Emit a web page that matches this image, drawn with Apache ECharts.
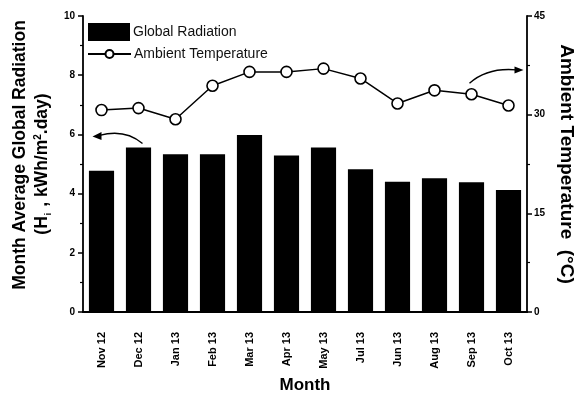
<!DOCTYPE html>
<html><head><meta charset="utf-8">
<script src="https://cdn.jsdelivr.net/npm/echarts@6/dist/echarts.min.js"></script>
<style>html,body{margin:0;padding:0;background:#fff}#c{width:581px;height:397px}</style>
</head><body><div id="c"></div>
<script>
const months = ['Nov 12','Dec 12','Jan 13','Feb 13','Mar 13','Apr 13','May 13','Jul 13','Jun 13','Aug 13','Sep 13','Oct 13'];
const radiation = [4.77, 5.56, 5.33, 5.33, 5.98, 5.29, 5.56, 4.82, 4.40, 4.52, 4.38, 4.12];
const temperature = [30.7, 31.0, 29.3, 34.4, 36.5, 36.5, 37.0, 35.5, 31.7, 33.7, 33.1, 31.4];
const radTicks = [0, 10, 2];
const tempTicks = [0, 45, 15];

const F = 'Arial, "Liberation Sans", sans-serif';
const chart = echarts.init(document.getElementById('c'));
const axisLine = {show: true, lineStyle: {color: '#000', width: 1.8}};
const legendText = {fontFamily: F, fontSize: 14, color: '#111', padding: [0, 0, 0, -2]};
chart.setOption({
  animation: false,
  grid: {left: 83, top: 16, right: 54, bottom: 85, containLabel: false, outerBoundsMode: 'none'},
  legend: [{
    orient: 'vertical', left: 88, top: 23, padding: 0, itemWidth: 42, itemHeight: 18,
    textStyle: legendText, data: [{name: 'Global Radiation', icon: 'rect'}]
  }, {
    orient: 'vertical', left: 87, top: 47, padding: 0, itemWidth: 43, itemHeight: 10,
    textStyle: legendText, data: [{name: 'Ambient Temperature'}]
  }],
  xAxis: [{
    type: 'category', data: months, position: 'bottom',
    axisLine: axisLine,
    axisTick: {alignWithLabel: true, length: 6, lineStyle: {color: '#000', width: 1.5}},
    axisLabel: {rotate: 90, margin: 20, fontFamily: F, fontWeight: 'bold', fontSize: 11, color: '#000'},
    name: 'Month', nameLocation: 'middle', nameGap: 64,
    nameTextStyle: {fontFamily: F, fontWeight: 'bold', fontSize: 17, color: '#000'}
  }, {
    type: 'category', data: months, position: 'top',
    axisLine: axisLine,
    axisTick: {alignWithLabel: true, inside: true, length: 5, lineStyle: {color: '#000', width: 1.5}},
    axisLabel: {show: false}
  }],
  yAxis: [{
    type: 'value', min: radTicks[0], max: radTicks[1], interval: radTicks[2], position: 'left',
    axisLine: axisLine, splitLine: {show: false},
    axisTick: {show: true, length: 5, lineStyle: {color: '#000', width: 1.5}},
    minorTick: {show: true, splitNumber: 2, length: 3, lineStyle: {color: '#000', width: 1.2}},
    axisLabel: {margin: 8, fontFamily: F, fontWeight: 'bold', fontSize: 10, color: '#000'},
    name: '{t|Month Average Global Radiation}\n{a|(H}{sub|i}{a| , kWh/m}{sup|2}{a|.day)}',
    nameLocation: 'middle', nameGap: 30, nameRotate: 90,
    nameTextStyle: {
      fontFamily: F, fontWeight: 'bold', fontSize: 17.5, color: '#000', lineHeight: 22,
      rich: {
        t: {fontFamily: F, fontWeight: 'bold', fontSize: 17.5, color: '#000', lineHeight: 22, padding: [0, 0, 0, 18]},
        a: {fontFamily: F, fontWeight: 'bold', fontSize: 17.5, color: '#000', lineHeight: 22},
        sub: {fontFamily: F, fontWeight: 'bold', fontSize: 9, color: '#000', lineHeight: 9, verticalAlign: 'bottom', padding: [0, 1, 0, 1]},
        sup: {fontFamily: F, fontWeight: 'bold', fontSize: 10, color: '#000', lineHeight: 10, verticalAlign: 'top', padding: [2, 0, 0, 0]}
      }
    }
  }, {
    type: 'value', min: tempTicks[0], max: tempTicks[1], interval: tempTicks[2], position: 'right',
    axisLine: axisLine, splitLine: {show: false},
    axisTick: {show: true, length: 5, lineStyle: {color: '#000', width: 1.5}},
    minorTick: {show: true, splitNumber: 2, length: 3, lineStyle: {color: '#000', width: 1.2}},
    axisLabel: {margin: 7, fontFamily: F, fontWeight: 'bold', fontSize: 10, color: '#000'},
    name: 'Ambient Temperature  (°C)', nameLocation: 'middle', nameGap: 30, nameRotate: -90,
    nameTextStyle: {fontFamily: F, fontWeight: 'bold', fontSize: 19, color: '#000'}
  }],
  series: [{
    name: 'Global Radiation', type: 'bar', data: radiation, xAxisIndex: 0, yAxisIndex: 0,
    barCategoryGap: '32%', itemStyle: {color: '#000'}
  }, {
    name: 'Ambient Temperature', type: 'line', data: temperature, xAxisIndex: 0, yAxisIndex: 1,
    symbol: 'circle', symbolSize: 11, z: 5,
    lineStyle: {color: '#000', width: 1.5},
    itemStyle: {color: '#fff', borderColor: '#000', borderWidth: 1.6}
  }]
});

// annotation arrows anchored to data points
function px(cat, v, yi) { return chart.convertToPixel({xAxisIndex: 0, yAxisIndex: yi}, [cat, v]); }
const g = [];
function arrow(x1, y1, cx, cy, x2, y2, dir) {
  g.push({type: 'bezierCurve', shape: {x1: x1, y1: y1, cpx1: cx, cpy1: cy, x2: x2, y2: y2},
    style: {stroke: '#000', lineWidth: 1.4, fill: null}, z: 10});
  const L = 9, W = 3.5;
  const pts = dir < 0
    ? [[x2 - L + 2, y2 + 1], [x2 + 2, y2 - W], [x2 + 2, y2 + W + 1]]
    : [[x2 + L - 2, y2], [x2 - 2, y2 - W], [x2 - 2, y2 + W]];
  g.push({type: 'polygon', shape: {points: pts}, style: {fill: '#000'}, z: 10});
}
const dec = px(months[1], radiation[1], 0);
const leftEnd = px(months[0], 6.0, 0);
arrow(dec[0] + 4, dec[1] - 4, dec[0] - 14, dec[1] - 19, leftEnd[0] - 2, leftEnd[1] + 1, -1);
const sep = px(months[10], temperature[10], 1);
const rightEnd = px(months[11], 36.5, 1);
arrow(sep[0] - 2, sep[1] - 11, sep[0] + 16, sep[1] - 27, rightEnd[0] + 8, rightEnd[1] - 2, 1);
chart.setOption({graphic: g});
</script>
</body></html>
